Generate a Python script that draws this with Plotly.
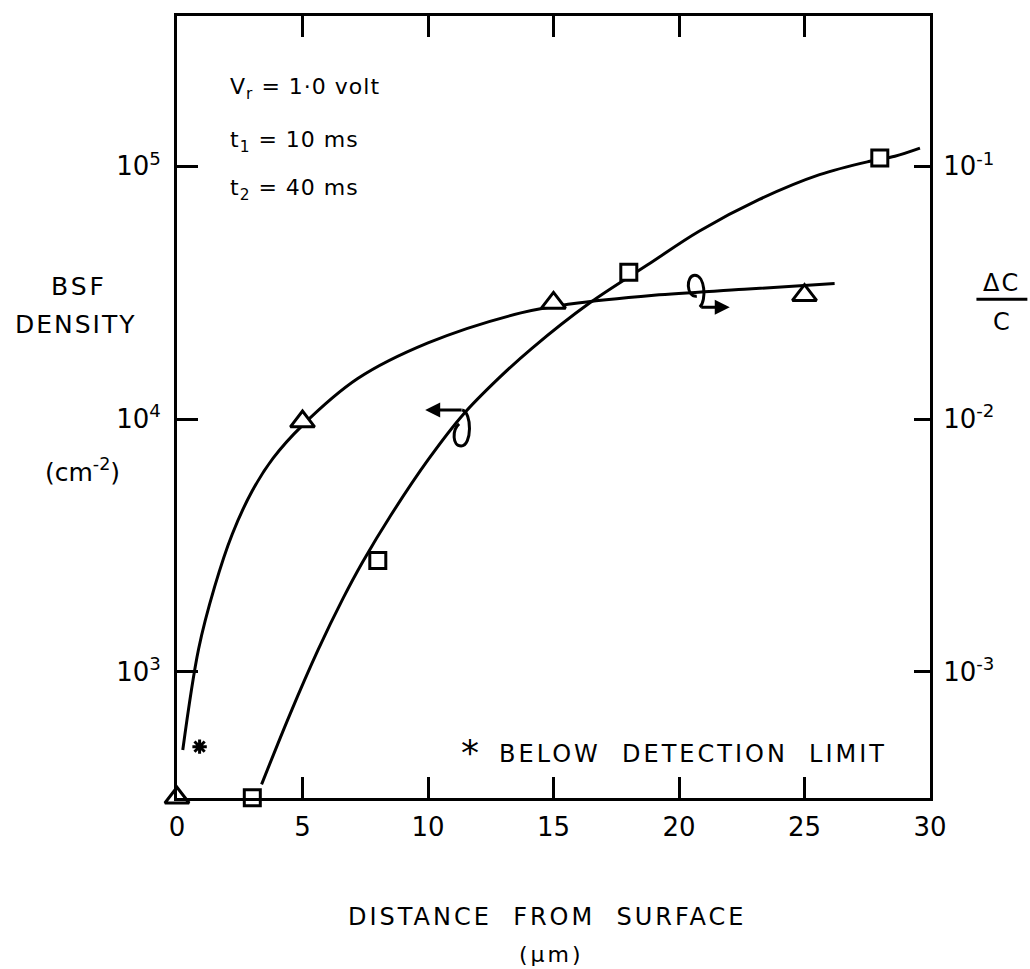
import plotly.graph_objects as go

# ---------------- data ----------------
# BSF density (left axis, cm^-2) -- squares
bsf_x = [3, 8, 18, 28]
bsf_y = [317, 2755, 38100, 107900]          # first point: below detection limit (axis floor)
bsf_curve_x = [3.37, 4.5, 5.62, 6.61, 7.39, 8.52, 10.0, 11.42, 12.8, 14.14, 16.45, 18.75, 20.8, 23.2, 25.6, 27.6, 28.6, 29.6]
bsf_curve_y = [358, 678, 1219, 1945, 2710, 4159, 6887, 10470, 14450, 19050, 28840, 40740, 55340, 73960, 92680, 104700, 109600, 118000]

# Delta C / C (right axis) -- triangles
dcc_x = [0, 5, 15, 25]
dcc_y = [3.17e-4, 9.77e-3, 2.88e-2, 3.09e-2]  # first point: below detection limit (axis floor)
dcc_curve_x = [0.23, 0.86, 1.5, 2.2, 3.0, 3.83, 5.0, 7.2, 10.0, 13.7, 15.66, 19.0, 22.6, 26.2]
dcc_curve_y = [4.9e-4, 1.23e-3, 2.17e-3, 3.50e-3, 5.20e-3, 7.0e-3, 9.44e-3, 1.445e-2, 2.0e-2,
               2.63e-2, 2.85e-2, 3.09e-2, 3.26e-2, 3.44e-2]

# below-detection-limit mark
star_x = [0.9]
star_y = [505]

x_ticks = [0, 5, 10, 15, 20, 25, 30]
y_ticks = [1e3, 1e4, 1e5]
y_ticktext = ["10<sup>3</sup>", "10<sup>4</sup>", "10<sup>5</sup>"]
y2_ticks = [1e-3, 1e-2, 1e-1]
y2_ticktext = ["10<sup>-3</sup>", "10<sup>-2</sup>", "10<sup>-1</sup>"]

# ---------------- layout geometry ----------------
W, H = 1030, 969
L, R, T, B = 176.5, 930.5, 15.5, 798.5
FONT = "DejaVu Sans"


def px(xp):
    return (xp - L) / (R - L)


def py(yp):
    return (B - yp) / (B - T)


fig = go.Figure()

fig.add_trace(go.Scatter(x=bsf_curve_x, y=bsf_curve_y, mode="lines",
                         line=dict(color="black", width=3, shape="spline", smoothing=1.0),
                         hoverinfo="skip"))
fig.add_trace(go.Scatter(x=dcc_curve_x, y=dcc_curve_y, mode="lines", yaxis="y2",
                         line=dict(color="black", width=3, shape="spline", smoothing=1.0),
                         hoverinfo="skip"))
fig.add_trace(go.Scatter(x=bsf_x, y=bsf_y, mode="markers", cliponaxis=False,
                         marker=dict(symbol="square", size=16, color="white",
                                     line=dict(color="black", width=3))))
fig.add_trace(go.Scatter(x=dcc_x, y=dcc_y, mode="markers", yaxis="y2", cliponaxis=False,
                         marker=dict(symbol="triangle-up", size=21, color="white",
                                     line=dict(color="black", width=3))))
fig.add_trace(go.Scatter(x=star_x, y=star_y, mode="markers",
                         marker=dict(symbol="asterisk-open", size=12, color="black",
                                     line=dict(color="black", width=3))))

axis_common = dict(showgrid=False, zeroline=False, showline=True, linecolor="black",
                   linewidth=3, ticks="inside", tickcolor="black", tickwidth=3,
                   tickfont=dict(family=FONT, size=26, color="black"))

fig.update_layout(
    width=W, height=H,
    margin=dict(l=L, r=W - R, t=T, b=H - B, pad=0),
    paper_bgcolor="white", plot_bgcolor="white",
    showlegend=False,
    font=dict(family=FONT, color="black"),
    xaxis=dict(range=[0, 30], tickvals=x_ticks, ticklen=21, mirror="ticks",
               ticklabelstandoff=4, **axis_common),
    yaxis=dict(type="log", range=[2.5, 5.595], tickvals=y_ticks, ticktext=y_ticktext,
               ticklen=21, mirror=True, ticklabelstandoff=8, **axis_common),
    yaxis2=dict(type="log", range=[-3.5, -0.405], tickvals=y2_ticks, ticktext=y2_ticktext,
                overlaying="y", side="right", ticklen=16, ticklabelstandoff=5, **axis_common),
)

ann = []


def text(x, y, s, size=22, xanchor="center", yanchor="middle", spacing=0):
    if spacing:
        s = '<span style="letter-spacing:%spx">%s</span>' % (spacing, s)
    ann.append(dict(x=px(x), y=py(y), xref="paper", yref="paper", text=s, showarrow=False,
                    xanchor=xanchor, yanchor=yanchor,
                    font=dict(family=FONT, size=size, color="black")))


text(228, 88, "V<sub>r</sub> = 1·0 volt", size=22, xanchor="left", spacing=1)
text(228, 141, "t<sub>1</sub> = 10 ms", size=22, xanchor="left", spacing=1)
text(228, 189, "t<sub>2</sub> = 40 ms", size=22, xanchor="left", spacing=1)

text(78, 286, "BSF", size=25, spacing=3)
text(75, 324, "DENSITY", size=25, spacing=2)
text(82, 471, "(cm<sup>-2</sup>)", size=25)

text(1002, 283, "ΔC", size=24, spacing=2)
text(1002, 322, "C", size=24)

text(547, 918, "DISTANCE  FROM  SURFACE", size=24, spacing=3)
text(551, 955, "(μm)", size=22, spacing=3)

text(470, 753, "*", size=36)
text(497, 754, "BELOW  DETECTION  LIMIT", size=24, xanchor="left", spacing=3)

# direction arrows
ann.append(dict(x=px(425), y=py(410), xref="paper", yref="paper", text="", showarrow=True,
                ax=38, ay=0, arrowhead=2, arrowsize=1, arrowwidth=3, arrowcolor="black"))
ann.append(dict(x=px(730), y=py(307), xref="paper", yref="paper", text="", showarrow=True,
                ax=-30, ay=0, arrowhead=2, arrowsize=1, arrowwidth=3, arrowcolor="black"))
fig.update_layout(annotations=ann)


def path(pts):
    s = ""
    for cmd, coords in pts:
        s += cmd + " " + " ".join("%.5f,%.5f" % (px(a), py(b)) for a, b in coords) + " "
    return s.strip()


shapes = [
    dict(type="line", xref="paper", yref="paper", x0=px(977), x1=px(1028), y0=py(299), y1=py(299),
         line=dict(color="black", width=3)),
    dict(type="path", xref="paper", yref="paper",
         path=path([("M", [(462, 410)]),
                    ("C", [(472, 412), (472, 446), (461, 446)]),
                    ("C", [(452, 446), (452, 430), (459, 424)])]),
         line=dict(color="black", width=3)),
    dict(type="path", xref="paper", yref="paper",
         path=path([("M", [(700, 307)]),
                    ("C", [(707, 300), (705, 275), (695, 275)]),
                    ("C", [(686, 275), (686, 297), (697, 296)])]),
         line=dict(color="black", width=3)),
]
fig.update_layout(shapes=shapes)

fig.write_html("out.html", config={"displayModeBar": False},
               post_script="document.body.style.margin='0px';document.body.style.overflow='hidden';")
